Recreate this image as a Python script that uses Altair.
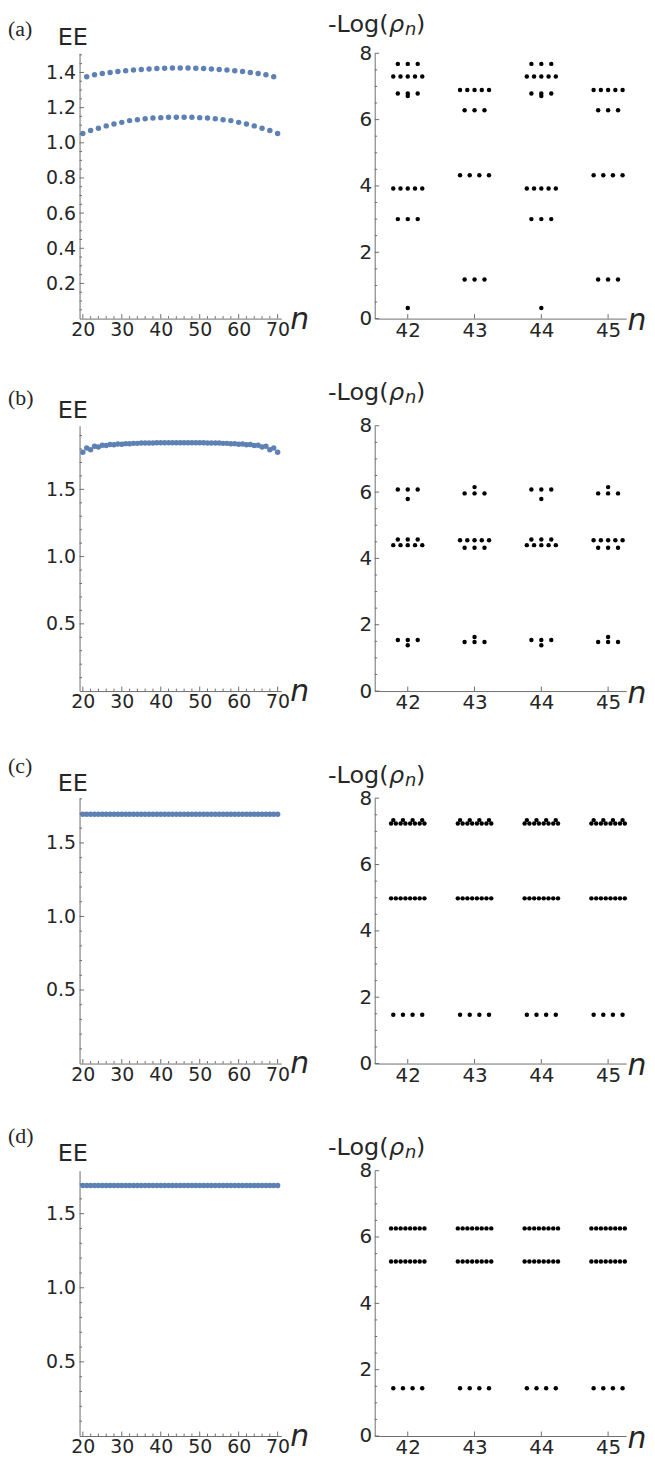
import altair as alt
import pandas as pd

# ---------------- data ----------------
# Left panels: entanglement entropy EE vs n
a_even_n = list(range(20, 71, 2))
a_even_ee = [1.053, 1.070, 1.083, 1.096, 1.107, 1.116, 1.126, 1.131, 1.137, 1.141, 1.143, 1.145, 1.145,
             1.145, 1.145, 1.143, 1.141, 1.137, 1.131, 1.126, 1.116, 1.107, 1.096, 1.083, 1.070, 1.053]
a_odd_n = list(range(21, 70, 2))
a_odd_ee = [1.376, 1.387, 1.394, 1.400, 1.405, 1.410, 1.414, 1.417, 1.420, 1.422, 1.424, 1.425,
            1.425,
            1.425, 1.424, 1.422, 1.420, 1.417, 1.414, 1.410, 1.405, 1.400, 1.394, 1.387, 1.376]

full_n = list(range(20, 71))
b_ee = [1.776, 1.808, 1.795, 1.820, 1.815, 1.828, 1.826, 1.833, 1.832, 1.837, 1.836, 1.840, 1.839,
        1.842, 1.842, 1.844, 1.844, 1.845, 1.845, 1.846, 1.846, 1.847, 1.847, 1.847, 1.847, 1.847,
        1.847, 1.847, 1.847, 1.847, 1.846, 1.846, 1.845, 1.845, 1.844, 1.844, 1.842, 1.842, 1.839,
        1.840, 1.836, 1.837, 1.832, 1.833, 1.826, 1.828, 1.815, 1.820, 1.795, 1.808, 1.776]
c_ee = [1.695, 1.695, 1.695, 1.695, 1.695, 1.695, 1.695, 1.695, 1.695, 1.695, 1.695, 1.695, 1.695,
        1.695, 1.695, 1.695, 1.695, 1.695, 1.695, 1.695, 1.695, 1.695, 1.695, 1.695, 1.695, 1.695,
        1.695, 1.695, 1.695, 1.695, 1.695, 1.695, 1.695, 1.695, 1.695, 1.695, 1.695, 1.695, 1.695,
        1.695, 1.695, 1.695, 1.695, 1.695, 1.695, 1.695, 1.695, 1.695, 1.695, 1.695, 1.695]
d_ee = [1.690, 1.690, 1.690, 1.690, 1.690, 1.690, 1.690, 1.690, 1.690, 1.690, 1.690, 1.690, 1.690,
        1.690, 1.690, 1.690, 1.690, 1.690, 1.690, 1.690, 1.690, 1.690, 1.690, 1.690, 1.690, 1.690,
        1.690, 1.690, 1.690, 1.690, 1.690, 1.690, 1.690, 1.690, 1.690, 1.690, 1.690, 1.690, 1.690,
        1.690, 1.690, 1.690, 1.690, 1.690, 1.690, 1.690, 1.690, 1.690, 1.690, 1.690, 1.690]

# Right panels: entanglement spectrum -Log(rho_n), levels and their multiplicities
spec_n = [42, 43, 44, 45]
a_even_lvls = [7.68, 7.30, 6.79, 6.71, 3.92, 3.00, 0.32]
a_even_mult = [3, 5, 3, 1, 5, 3, 1]
a_odd_lvls = [6.89, 6.28, 4.32, 1.18]
a_odd_mult = [5, 3, 4, 3]
b_even_lvls = [6.08, 5.79, 4.57, 4.40, 1.54, 1.38]
b_even_mult = [3, 1, 3, 5, 3, 1]
b_odd_lvls = [5.96, 6.15, 4.55, 4.32, 1.48, 1.63]
b_odd_mult = [3, 1, 5, 3, 3, 1]
c_lvls = [7.34, 7.24, 4.98, 1.47]
c_mult = [4, 8, 8, 4]
d_lvls = [6.26, 5.26, 1.44]
d_mult = [8, 8, 4]

panel_labels = ["(a)", "(b)", "(c)", "(d)"]

# ---------------- style / layout ----------------
LW, RW, H = 203, 253, 267
LX_DOM = [19.16, 70.94]
RX_DOM = [41.505, 45.27]
AX = "#6e6e6e"
TXT = "#262626"
BLUE = "#5E81B5"
FONT = "DejaVu Sans"
PX_PER_N = RW / (RX_DOM[1] - RX_DOM[0])
SPACING_PX = {1: 0.0, 3: 10.0, 4: 9.7, 5: 7.3, 8: 4.8}

# per-row annotation baselines (relative to plot top)
lab_dy = [-17, -21.3, -25.6, -27.9]
ee_dy = [-8.3, -7.6, -6.9, -9.6]
rt_dy = [-21.7, -26.0, -15.3, -16.2]


def one():
    return pd.DataFrame({"k": [0]})


def text_layer(txt, x, y, size, font=FONT, style="normal", align="left"):
    return alt.Chart(one()).mark_text(text=txt, font=font, fontSize=size, fontStyle=style,
                                      align=align, baseline="alphabetic", color=TXT).encode(
        x=alt.value(x), y=alt.value(y))


def base_axis(values, fmt, size, pad):
    return alt.Axis(values=values, format=fmt, ticks=False, grid=False, domainColor=AX,
                    domainWidth=1, labelFont=FONT, labelFontSize=size, labelColor=TXT,
                    labelPadding=pad, labelFlush=False, labelOverlap=False, title=None)


def tick_rules(vals, scale, channel, length, ax):
    df = pd.DataFrame({"v": vals})
    if channel == "x":
        return alt.Chart(df).mark_rule(color=AX, strokeWidth=1).encode(
            x=alt.X("v:Q", scale=scale, axis=ax), y=alt.value(H), y2=alt.value(H - length))
    return alt.Chart(df).mark_rule(color=AX, strokeWidth=1).encode(
        y=alt.Y("v:Q", scale=scale, axis=ax), x=alt.value(0), x2=alt.value(length))


def left_panel(i, df, ydom, ymajor, ystep):
    xs = alt.Scale(domain=LX_DOM, nice=False, zero=False)
    ys = alt.Scale(domain=ydom, nice=False, zero=False)
    xax = base_axis(list(range(20, 71, 10)), "d", 19, 2)
    yax = base_axis(ymajor, ".1f", 19, 4)
    pts = alt.Chart(df).mark_circle(size=30, color=BLUE, opacity=1).encode(
        x=alt.X("n:Q", scale=xs, axis=xax),
        y=alt.Y("ee:Q", scale=ys, axis=yax),
    )
    xmin = [v for v in range(20, 71, 2) if v % 10 != 0]
    ymin = []
    k = 1
    while k * ystep < ydom[1]:
        v = round(k * ystep, 3)
        if all(abs(v - m) > 1e-6 for m in ymajor):
            ymin.append(v)
        k += 1
    layers = [
        pts,
        tick_rules(list(range(20, 71, 10)), xs, "x", 4.5, xax),
        tick_rules(xmin, xs, "x", 2.5, xax),
        tick_rules(ymajor, ys, "y", 4.5, yax),
        tick_rules(ymin, ys, "y", 2.5, yax),
        text_layer(panel_labels[i], -72, lab_dy[i], 22, font="Liberation Serif"),
        text_layer("EE", -22, ee_dy[i], 24),
        text_layer("n", LW + 9, H + 10, 30, style="italic"),
    ]
    return alt.layer(*layers).properties(width=LW, height=H)


def spectrum_df(lvl_even, mult_even, lvl_odd, mult_odd):
    rows = []
    for n in spec_n:
        lv, mu = (lvl_even, mult_even) if n % 2 == 0 else (lvl_odd, mult_odd)
        for v, m in zip(lv, mu):
            sp = SPACING_PX[m] / PX_PER_N
            for j in range(m):
                rows.append({"x": n + (j - (m - 1) / 2) * sp, "y": v})
    return pd.DataFrame(rows)


def right_panel(i, df):
    xs = alt.Scale(domain=RX_DOM, nice=False, zero=False)
    ys = alt.Scale(domain=[0, 8], nice=False, zero=False)
    xax = base_axis(spec_n, "d", 20, 2)
    yax = base_axis([0, 2, 4, 6, 8], "d", 20, 3)
    pts = alt.Chart(df).mark_circle(size=20, color="#000000", opacity=1).encode(
        x=alt.X("x:Q", scale=xs, axis=xax),
        y=alt.Y("y:Q", scale=ys, axis=yax),
    )
    ymin = [k * 0.5 for k in range(1, 16) if k % 4 != 0]
    tx = -47
    ty = rt_dy[i]
    layers = [
        pts,
        tick_rules(spec_n, xs, "x", 4.5, xax),
        tick_rules([0, 2, 4, 6, 8], ys, "y", 4.5, yax),
        tick_rules(ymin, ys, "y", 2.5, yax),
        text_layer("-Log(", tx, ty, 24),
        text_layer("ρ", tx + 61.3, ty, 24, style="italic"),
        text_layer("n", tx + 77.5, ty + 3.4, 18, style="italic"),
        text_layer(")", tx + 88.5, ty, 24),
        text_layer("n", RW + 1.5, H + 11.7, 30, style="italic"),
    ]
    return alt.layer(*layers).properties(width=RW, height=H)


# left data frames
df_a = pd.DataFrame({"n": a_even_n + a_odd_n, "ee": a_even_ee + a_odd_ee})
df_b = pd.DataFrame({"n": full_n, "ee": b_ee})
df_c = pd.DataFrame({"n": full_n, "ee": c_ee})
df_d = pd.DataFrame({"n": full_n, "ee": d_ee})

lefts = [
    left_panel(0, df_a, [0, 1.509], [0.2, 0.4, 0.6, 0.8, 1.0, 1.2, 1.4], 0.05),
    left_panel(1, df_b, [0, 1.973], [0.5, 1.0, 1.5], 0.1),
    left_panel(2, df_c, [0, 1.804], [0.5, 1.0, 1.5], 0.1),
    left_panel(3, df_d, [0, 1.79], [0.5, 1.0, 1.5], 0.1),
]
rights = [
    right_panel(0, spectrum_df(a_even_lvls, a_even_mult, a_odd_lvls, a_odd_mult)),
    right_panel(1, spectrum_df(b_even_lvls, b_even_mult, b_odd_lvls, b_odd_mult)),
    right_panel(2, spectrum_df(c_lvls, c_mult, c_lvls, c_mult)),
    right_panel(3, spectrum_df(d_lvls, d_mult, d_lvls, d_mult)),
]

cells = []
for l, r in zip(lefts, rights):
    cells.extend([l, r])

chart = alt.concat(*cells, columns=2, spacing={"row": 107.8, "column": 94}, bounds="flush").properties(
    padding={"left": 0, "top": 0, "right": 0, "bottom": 0}
).configure_view(stroke=None)

chart.save("out.html", embed_options={"renderer": "svg", "actions": False})
